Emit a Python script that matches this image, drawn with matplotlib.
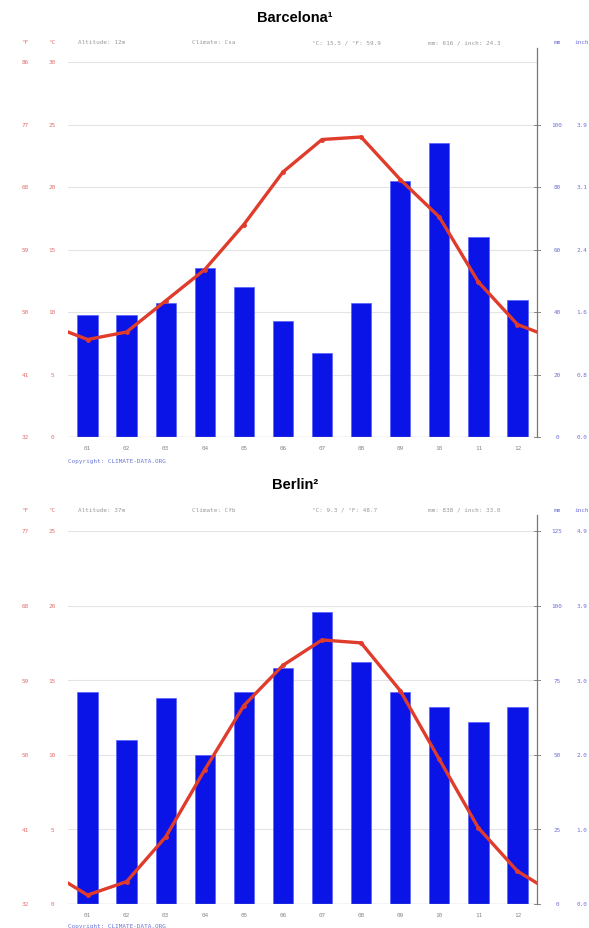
import numpy as np
import matplotlib.pyplot as plt
import matplotlib.transforms as mtransforms

# month labels
months = ["01", "02", "03", "04", "05", "06", "07", "08", "09", "10", "11", "12"]

# Barcelona
bcn_precip = [39, 39, 43, 54, 48, 37, 27, 43, 82, 94, 64, 44]
bcn_temp = [7.8, 8.4, 10.9, 13.4, 17.0, 21.2, 23.8, 24.0, 20.6, 17.6, 12.4, 9.0]
bcn_c_ticks = [0, 5, 10, 15, 20, 25, 30]
bcn_f_labels = ["32", "41", "50", "59", "68", "77", "86"]
bcn_mm_labels = ["0", "20", "40", "60", "80", "100", ""]
bcn_inch_labels = ["0.0", "0.8", "1.6", "2.4", "3.1", "3.9", ""]
bcn_header = ["Altitude: 12m", "Climate: Csa", "°C: 15.5 / °F: 59.9", "mm: 616 / inch: 24.3"]

# Berlin
ber_precip = [71, 55, 69, 50, 71, 79, 98, 81, 71, 66, 61, 66]
ber_temp = [0.6, 1.5, 4.5, 9.0, 13.3, 16.0, 17.7, 17.5, 14.3, 9.7, 5.1, 2.2]
ber_c_ticks = [0, 5, 10, 15, 20, 25]
ber_f_labels = ["32", "41", "50", "59", "68", "77"]
ber_mm_labels = ["0", "25", "50", "75", "100", "125"]
ber_inch_labels = ["0.0", "1.0", "2.0", "3.0", "3.9", "4.9"]
ber_header = ["Altitude: 37m", "Climate: Cfb", "°C: 9.3 / °F: 48.7", "mm: 838 / inch: 33.0"]

RED = "#e03c2c"
BLUE = "#0a14e6"
TXT = dict(family="DejaVu Sans Mono", fontsize=4.3)

fig = plt.figure(figsize=(5.89, 9.29), dpi=100)


def px(x):
    return x / 589


def py(y):
    return 1 - y / 929


def climate(rect, title, title_y, header_y, copy_y, precip, temp, c_ticks, f_labels,
            mm_labels, inch_labels, header, mm_per_c):
    ax = fig.add_axes(rect)
    x = np.arange(1, 13)
    tmax = c_ticks[-1]
    ax.set_xlim(0.5, 12.5)
    ax.set_ylim(0, tmax)

    ax2 = ax.twinx()
    ax2.set_ylim(0, tmax * mm_per_c)
    # grid behind the bars
    for t in c_ticks[1:]:
        ax2.axhline(t * mm_per_c, color="#e4e4e4", lw=0.8, zorder=0)
    ax2.bar(x, precip, width=0.52, color=BLUE, edgecolor="#5560ff", lw=0.5, zorder=2)
    ax2.set_zorder(ax.get_zorder() - 1)
    ax.patch.set_visible(False)
    ax.axhline(0, color="#aaaaaa", lw=0.9, zorder=3)

    # temperature line, wrapped round the year and clipped at the edges
    xs = np.concatenate([[0], x, [13]])
    ts = np.concatenate([[temp[-1]], temp, [temp[0]]])
    ax.plot(xs, ts, color=RED, lw=2.4, solid_capstyle="round", zorder=5,
            marker="o", ms=2.5, mfc=RED, mec=RED)

    for a in (ax, ax2):
        for s in a.spines.values():
            s.set_visible(False)
        a.set_xticks([])
        a.set_yticks([])

    # right axis line and tick marks
    fig.add_artist(plt.Line2D([rect[0] + rect[2]] * 2,
                              [rect[1], py(header_y) - 0.006],
                              color="#777777", lw=0.9))
    trans = mtransforms.blended_transform_factory(fig.transFigure, ax.transData)
    for i, t in enumerate(c_ticks):
        ax.text(px(25), t, f_labels[i], color="#e07070", ha="center", va="center",
                transform=trans, **TXT)
        ax.text(px(52), t, str(t), color="#e07070", ha="center", va="center",
                transform=trans, **TXT)
        if mm_labels[i]:
            ax.text(px(557), t, mm_labels[i], color="#7070d8", ha="center", va="center",
                    transform=trans, **TXT)
            ax.text(px(582), t, inch_labels[i], color="#7070d8", ha="center", va="center",
                    transform=trans, **TXT)
            ax.plot([px(534), px(540)], [t, t], color="#888888", lw=0.7,
                    transform=trans, clip_on=False)

    for i, m in enumerate(months):
        ax.text(x[i], -tmax * 0.027, m, color="#888888", ha="center", va="center", **TXT)

    hy = py(header_y)
    fig.text(px(25), hy, "°F", color="#e07070", ha="center", va="center", **TXT)
    fig.text(px(52), hy, "°C", color="#e07070", ha="center", va="center", **TXT)
    fig.text(px(557), hy, "mm", color="#7070d8", ha="center", va="center", **TXT)
    fig.text(px(582), hy, "inch", color="#7070d8", ha="center", va="center", **TXT)
    for xp, h in zip([78, 192, 312, 428], header):
        fig.text(px(xp), hy, h, color="#999999", ha="left", va="center", **TXT)

    fig.text(px(68), py(copy_y), "Copyright: CLIMATE-DATA.ORG", color="#6a78d8",
             ha="left", va="center", **TXT)
    fig.text(px(295), py(title_y), title, ha="center", va="center",
             fontsize=10.5, fontweight="bold", family="Liberation Sans")


climate([px(68), py(438), px(469), (438 - 63) / 929], "Barcelona¹", 18, 43, 462,
        bcn_precip, bcn_temp, bcn_c_ticks, bcn_f_labels, bcn_mm_labels, bcn_inch_labels,
        bcn_header, 4)
climate([px(68), py(905), px(469), (905 - 532) / 929], "Berlin²", 485, 510, 927,
        ber_precip, ber_temp, ber_c_ticks, ber_f_labels, ber_mm_labels, ber_inch_labels,
        ber_header, 5)

fig.savefig("out.png", dpi=100)
